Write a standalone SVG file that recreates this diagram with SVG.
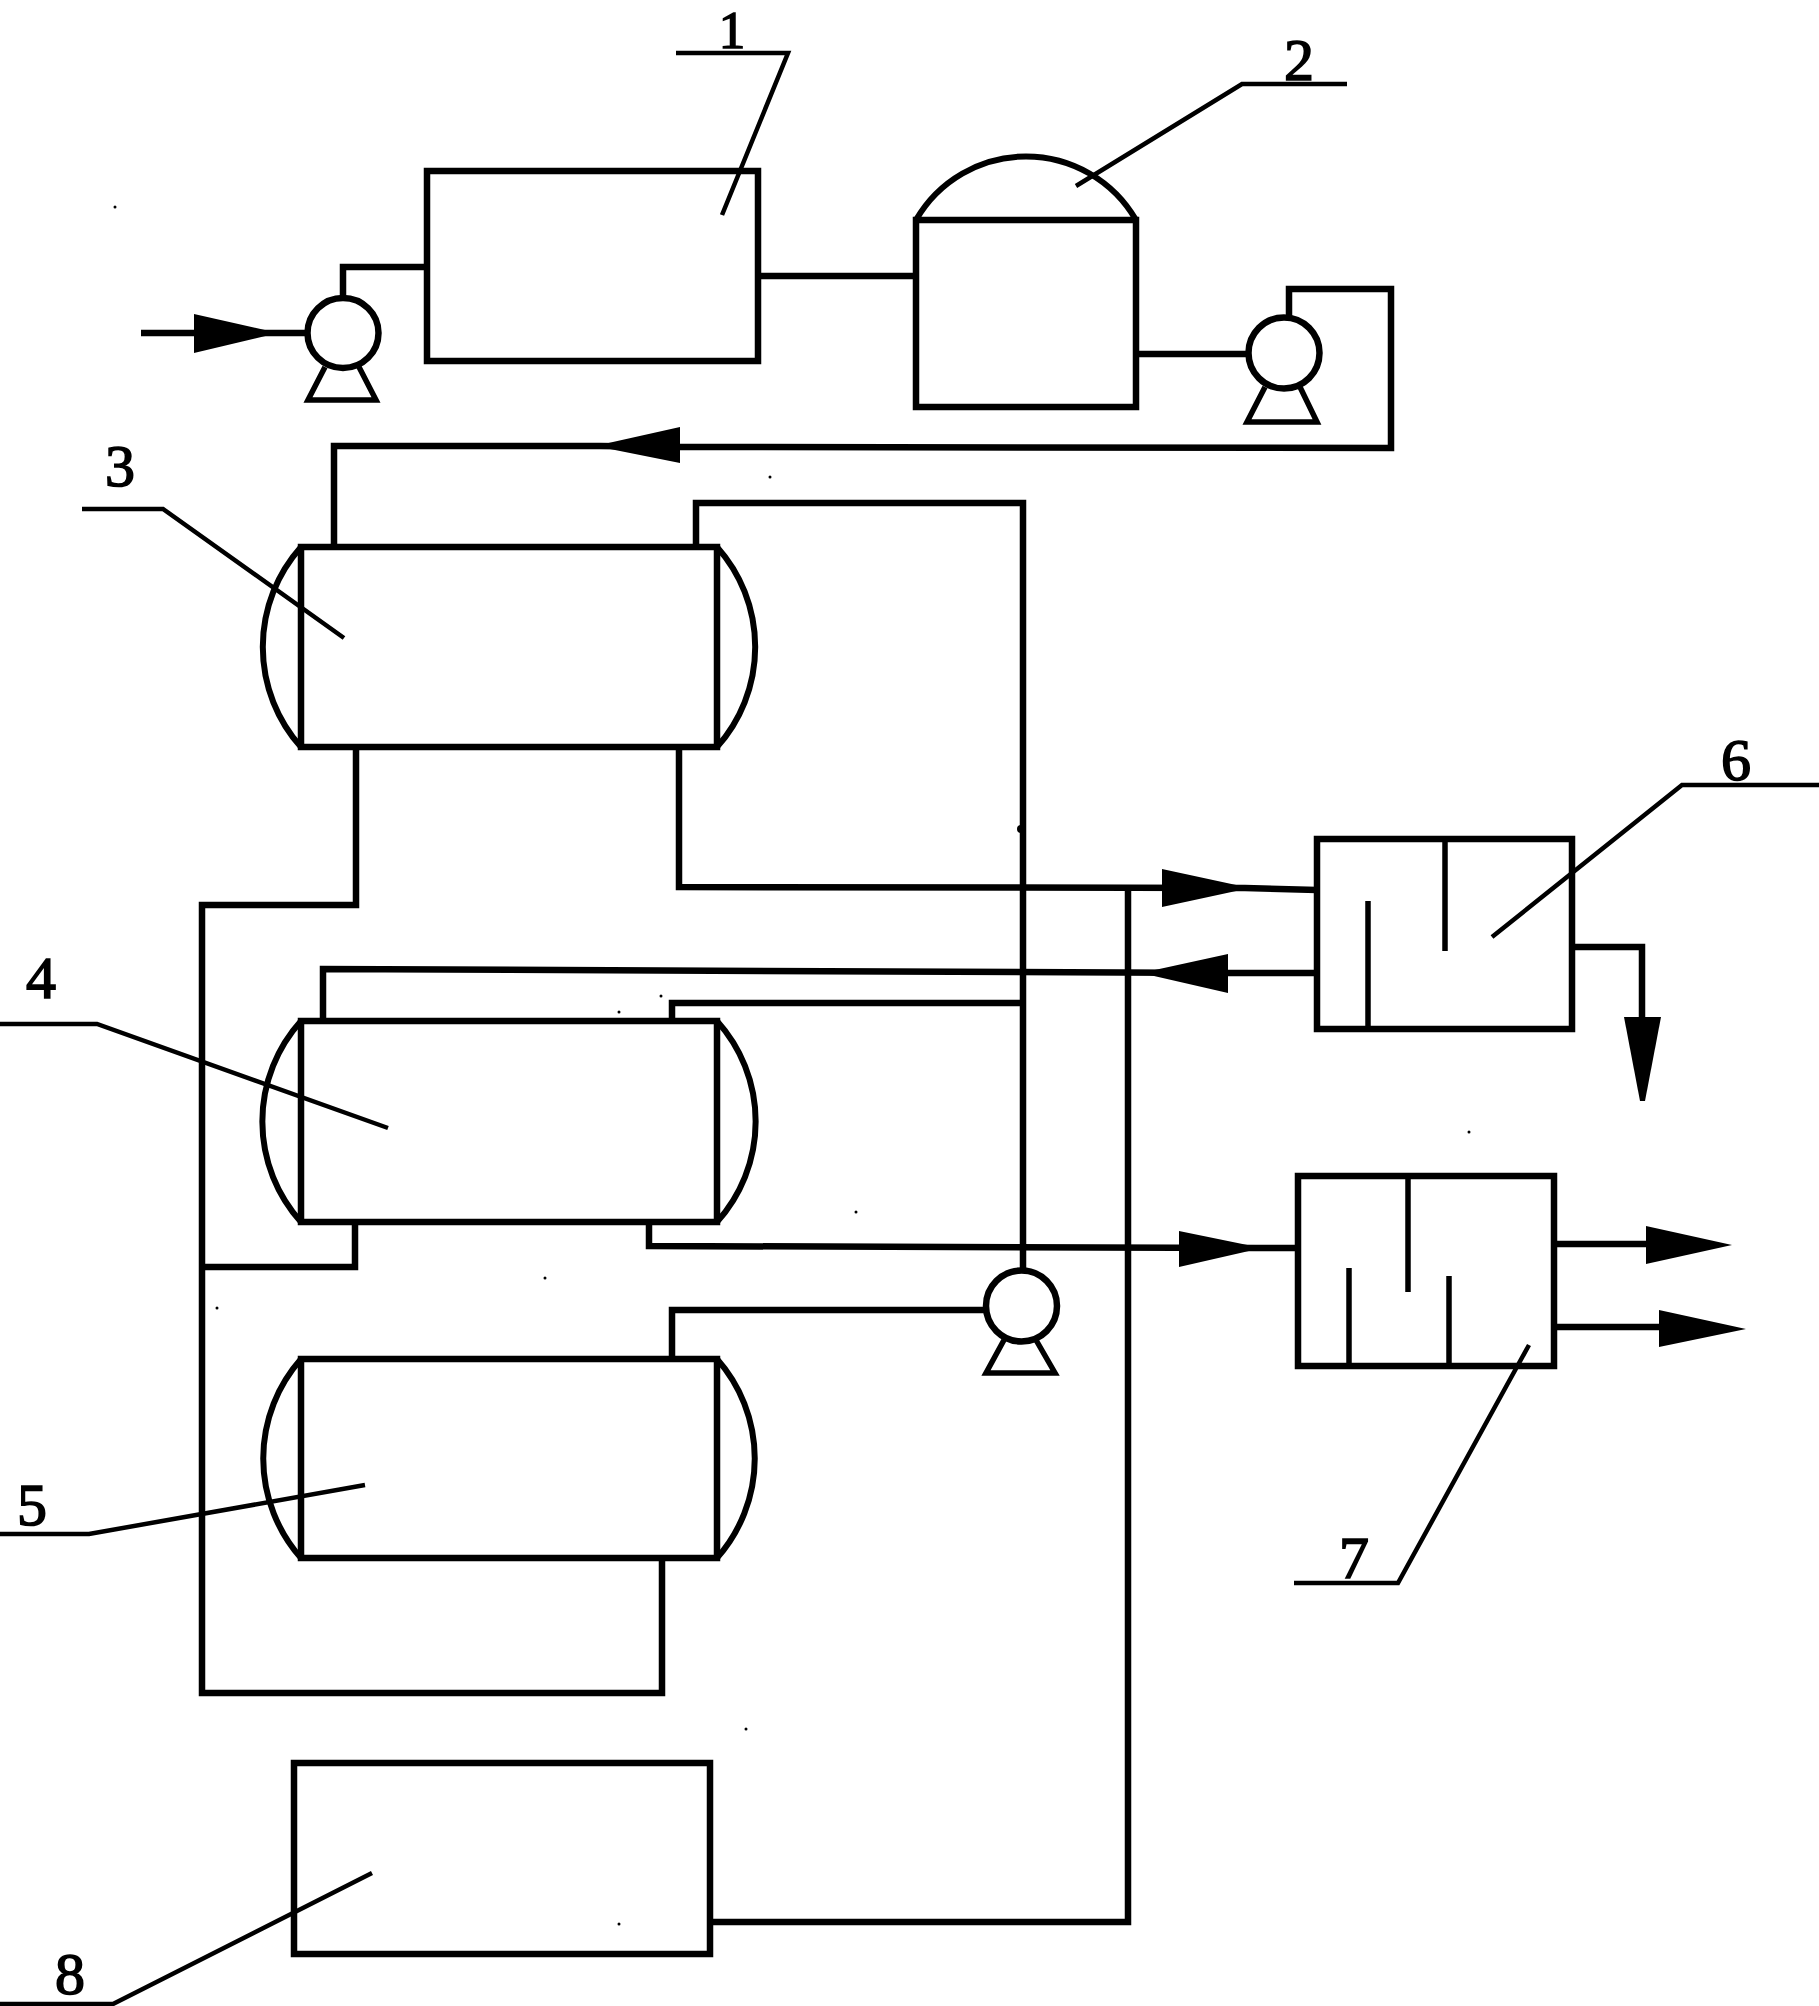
<svg xmlns="http://www.w3.org/2000/svg" width="1819" height="2006" viewBox="0 0 1819 2006">
<style>
.s{fill:none;stroke:#000;stroke-width:6.5;stroke-linejoin:miter;stroke-linecap:butt}
.b{fill:#fff;stroke:#000;stroke-width:6.5}
.h{fill:none;stroke:#000;stroke-width:6}
.t{fill:none;stroke:#000;stroke-width:5.5;stroke-linejoin:miter}
.l{fill:none;stroke:#000;stroke-width:4.5;stroke-linejoin:miter}
.a{fill:#000;stroke:none}
.n{font-family:"Liberation Serif","Times New Roman",serif;font-size:60px;fill:#000;text-anchor:middle;stroke:#000;stroke-width:1.6}
</style>
<rect width="1819" height="2006" fill="#fff"/>
<g id="connectors">
<path class="s" d="M141 333H306"/>
<path class="s" d="M343 296V267H427"/>
<path class="s" d="M758 276H916"/>
<path class="s" d="M1136 354H1247"/>
<path class="s" d="M1289 316V289H1391V448L680 447L600 446H334V547"/>
<path class="s" d="M696 547V503H1023V1268"/>
<path class="s" d="M356 747V905H202V1693H662V1558"/>
<path class="s" d="M355 1222V1267H202"/>
<path class="s" d="M679 747V887L1245 888L1317 890"/>
<path class="s" d="M323 1021V969L1228 973H1317"/>
<path class="s" d="M672 1021V1003H1023"/>
<path class="s" d="M649 1222V1246L1256 1248L1298 1248"/>
<path class="s" d="M672 1359V1310H985"/>
<path class="s" d="M710 1922H1128V888"/>
<path class="s" d="M1572 947H1642V1020"/>
<path class="s" d="M1554 1244H1650"/>
<path class="s" d="M1554 1327H1662"/>
<circle class="a" cx="1021" cy="829" r="4"/>
<polygon class="a" points="194,314 278,333 194,353"/>
<polygon class="a" points="680,427 595,446 680,463"/>
<polygon class="a" points="1162,869 1250,888 1162,907"/>
<polygon class="a" points="1228,954 1141,973 1228,993"/>
<polygon class="a" points="1179,1231 1262,1248 1179,1267"/>
<polygon class="a" points="1624,1017 1661,1017 1645,1101 1640,1101"/>
<polygon class="a" points="1646,1226 1732,1245 1646,1264"/>
<polygon class="a" points="1659,1310 1746,1329 1659,1347"/>
</g>
<g id="node-1">
<rect class="s" x="427" y="171" width="331" height="190"/>
<path class="l" d="M676 53H788L722 215"/>
<text class="n" x="732" y="47.5" style="font-size:53px">1</text>
</g>
<g id="node-2">
<path class="h" d="M916 220A127 127 0 0 1 1136 220"/>
<rect class="s" x="916" y="220" width="220" height="187"/>
<path class="l" d="M1347 84H1242L1076 186"/>
<text class="n" x="1299" y="80">2</text>
</g>
<g id="pump-a">
<ellipse class="b" cx="343" cy="333" rx="35.5" ry="35"/>
<path class="t" d="M325 367L308 400H376L359 367"/>
</g>
<g id="pump-b">
<circle class="b" cx="1284" cy="353" r="35.5"/>
<path class="t" d="M1265 387L1247 422H1317L1300 387"/>
</g>
<g id="pump-c">
<circle class="b" cx="1021.500" cy="1306" r="35.5"/>
<path class="t" d="M1004 1340L986 1373H1055L1036 1340"/>
</g>
<g id="node-3">
<path class="h" d="M301 547A150 150 0 0 0 301 747"/>
<path class="h" d="M717 547A150 150 0 0 1 717 747"/>
<rect class="s" x="301" y="547" width="416" height="200"/>
<path class="l" d="M82 509H163L344 638"/>
<text class="n" x="120" y="486">3</text>
</g>
<g id="node-4">
<path class="h" d="M301 1021A150 150 0 0 0 301 1222"/>
<path class="h" d="M717 1021A150 150 0 0 1 717 1222"/>
<rect class="s" x="301" y="1021" width="416" height="201"/>
<path class="l" d="M0 1024H97L388 1128"/>
<text class="n" x="41" y="998">4</text>
</g>
<g id="node-5">
<path class="h" d="M301 1359A150 150 0 0 0 301 1558"/>
<path class="h" d="M717 1359A150 150 0 0 1 717 1558"/>
<rect class="s" x="301" y="1359" width="416" height="199"/>
<path class="l" d="M0 1534H89L365 1485"/>
<text class="n" x="32" y="1525">5</text>
</g>
<g id="node-6">
<rect class="s" x="1317" y="839" width="255" height="190"/>
<path class="t" d="M1445 839V951M1368 901V1029"/>
<path class="l" d="M1819 785H1682L1492 937"/>
<text class="n" x="1736" y="780">6</text>
</g>
<g id="node-7">
<rect class="s" x="1298" y="1176" width="256" height="190"/>
<path class="t" d="M1408 1176V1292M1349 1268V1366M1449 1276V1366"/>
<path class="l" d="M1294 1583H1398L1529 1345"/>
<text class="n" x="1354" y="1578">7</text>
</g>
<g id="node-8">
<rect class="s" x="294" y="1763" width="416" height="191"/>
<path class="l" d="M0 2004H113L372 1873"/>
<text class="n" x="70" y="1994">8</text>
</g>
<g id="specks" fill="#000">
<circle cx="115" cy="207" r="1.5"/><circle cx="770" cy="477" r="1.5"/><circle cx="661" cy="996" r="1.5"/><circle cx="619" cy="1012" r="1.5"/><circle cx="545" cy="1278" r="1.5"/><circle cx="217" cy="1308" r="1.5"/><circle cx="856" cy="1212" r="1.5"/><circle cx="1469" cy="1132" r="1.5"/><circle cx="746" cy="1729" r="1.5"/><circle cx="619" cy="1924" r="1.5"/>
</g>
</svg>
